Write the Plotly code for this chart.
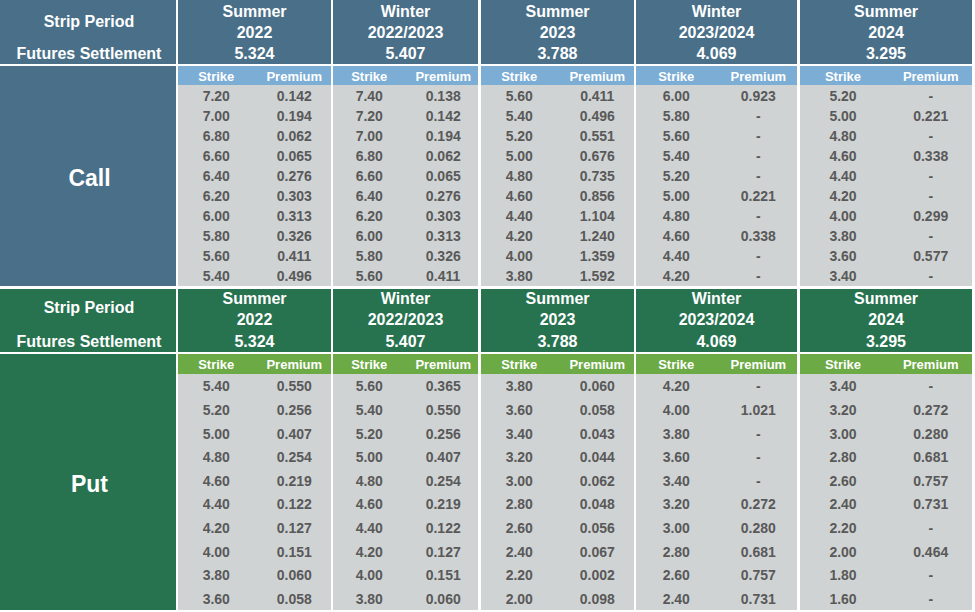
import plotly.graph_objects as go

# strip periods (header rows) and futures settlement prices
periods = ["Summer<br>2022", "Winter<br>2022/2023", "Summer<br>2023",
           "Winter<br>2023/2024", "Summer<br>2024"]
settlement = ["5.324", "5.407", "3.788", "4.069", "3.295"]

# call options: strikes and premiums per strip period ("-" = no quote)
call_strikes = [
    ["7.20", "7.00", "6.80", "6.60", "6.40", "6.20", "6.00", "5.80", "5.60", "5.40"],
    ["7.40", "7.20", "7.00", "6.80", "6.60", "6.40", "6.20", "6.00", "5.80", "5.60"],
    ["5.60", "5.40", "5.20", "5.00", "4.80", "4.60", "4.40", "4.20", "4.00", "3.80"],
    ["6.00", "5.80", "5.60", "5.40", "5.20", "5.00", "4.80", "4.60", "4.40", "4.20"],
    ["5.20", "5.00", "4.80", "4.60", "4.40", "4.20", "4.00", "3.80", "3.60", "3.40"],
]
call_premiums = [
    ["0.142", "0.194", "0.062", "0.065", "0.276", "0.303", "0.313", "0.326", "0.411", "0.496"],
    ["0.138", "0.142", "0.194", "0.062", "0.065", "0.276", "0.303", "0.313", "0.326", "0.411"],
    ["0.411", "0.496", "0.551", "0.676", "0.735", "0.856", "1.104", "1.240", "1.359", "1.592"],
    ["0.923", "-", "-", "-", "-", "0.221", "-", "0.338", "-", "-"],
    ["-", "0.221", "-", "0.338", "-", "-", "0.299", "-", "0.577", "-"],
]

# put options
put_strikes = [
    ["5.40", "5.20", "5.00", "4.80", "4.60", "4.40", "4.20", "4.00", "3.80", "3.60"],
    ["5.60", "5.40", "5.20", "5.00", "4.80", "4.60", "4.40", "4.20", "4.00", "3.80"],
    ["3.80", "3.60", "3.40", "3.20", "3.00", "2.80", "2.60", "2.40", "2.20", "2.00"],
    ["4.20", "4.00", "3.80", "3.60", "3.40", "3.20", "3.00", "2.80", "2.60", "2.40"],
    ["3.40", "3.20", "3.00", "2.80", "2.60", "2.40", "2.20", "2.00", "1.80", "1.60"],
]
put_premiums = [
    ["0.550", "0.256", "0.407", "0.254", "0.219", "0.122", "0.127", "0.151", "0.060", "0.058"],
    ["0.365", "0.550", "0.256", "0.407", "0.254", "0.219", "0.122", "0.127", "0.151", "0.060"],
    ["0.060", "0.058", "0.043", "0.044", "0.062", "0.048", "0.056", "0.067", "0.002", "0.098"],
    ["-", "1.021", "-", "-", "-", "0.272", "0.280", "0.681", "0.757", "0.731"],
    ["-", "0.272", "0.280", "0.681", "0.757", "0.731", "-", "0.464", "-", "-"],
]

# ---- layout (pixel grid of the table) ----
col_left = [0, 178, 333, 481, 636, 800]
col_right = [176, 331, 478, 634, 797, 972]

FONT = "Liberation Sans, Arial, sans-serif"
GREY = "#D0D3D4"
TXT = "#595959"
TEXT_DY = 2  # plotly centres text slightly high

sections = [
    dict(name="Call", strikes=call_strikes, prem=call_premiums,
         dark="#4A7089", light="#7BADD5",
         head=(0, 64), sub=(66, 85), data=(85, 286), sp_y=21, fs_y=53,
         per_y=(11, 32), set_y=53),
    dict(name="Put", strikes=put_strikes, prem=put_premiums,
         dark="#277350", light="#6BAA45",
         head=(289, 352), sub=(354, 374), data=(374, 610), sp_y=307, fs_y=341,
         per_y=(298, 319), set_y=341),
]

fig = go.Figure()
shapes = []


def rect(x0, x1, y0, y1, color):
    shapes.append(dict(type="rect", xref="x", yref="y", x0=x0, x1=x1, y0=y0, y1=y1,
                       fillcolor=color, line=dict(width=0), layer="below"))


def text(xs, ys, labels, size, color):
    fig.add_trace(go.Scatter(
        x=xs, y=[y + TEXT_DY for y in ys], text=labels, mode="text", hoverinfo="skip",
        textfont=dict(family=FONT, size=size, color=color, weight="bold"),
        showlegend=False))


for s in sections:
    # left column: header block + label block
    rect(col_left[0], col_right[0], s["head"][0], s["head"][1], s["dark"])
    rect(col_left[0], col_right[0], s["sub"][0], s["data"][1], s["dark"])
    mid0 = (col_left[0] + col_right[0]) / 2
    text([mid0 + 1, mid0 + 1], [s["sp_y"], s["fs_y"]],
         ["Strip Period", "Futures Settlement"], 16, "white")
    text([mid0 + 1.5], [(s["sub"][0] + s["data"][1]) / 2 + 2], [s["name"]], 23, "white")

    n_rows = len(s["strikes"][0])
    row_h = (s["data"][1] - s["data"][0]) / n_rows
    row_y = [s["data"][0] + row_h * (i + 0.5) for i in range(n_rows)]

    for j in range(len(periods)):
        l, r = col_left[j + 1], col_right[j + 1]
        w = r - l
        xs_strike = l + 0.25 * w
        xs_prem = l + 0.76 * w
        rect(l, r, s["head"][0], s["head"][1], s["dark"])
        rect(l, r, s["sub"][0], s["sub"][1], s["light"])
        rect(l, r, s["data"][0], s["data"][1], GREY)
        top, bottom = periods[j].split("<br>")
        text([(l + r) / 2] * 3, [s["per_y"][0], s["per_y"][1], s["set_y"]],
             [top, bottom, settlement[j]], 16, "white")
        sub_y = (s["sub"][0] + s["sub"][1]) / 2
        text([xs_strike, xs_prem], [sub_y, sub_y], ["Strike", "Premium"], 13, "white")
        text([xs_strike] * n_rows, row_y, s["strikes"][j], 14, TXT)
        text([xs_prem] * n_rows, row_y, s["prem"][j], 14, TXT)

fig.update_layout(
    width=975, height=612,
    margin=dict(l=0, r=0, t=0, b=0),
    paper_bgcolor="white", plot_bgcolor="white",
    shapes=shapes,
    xaxis=dict(range=[0, 975], visible=False, fixedrange=True),
    yaxis=dict(range=[612, 0], visible=False, fixedrange=True),
)

# drop the browser's default page margin so the table sits at the top-left corner
fig.write_html("out.html", config={"displayModeBar": False},
               post_script="document.body.style.margin='0';")
